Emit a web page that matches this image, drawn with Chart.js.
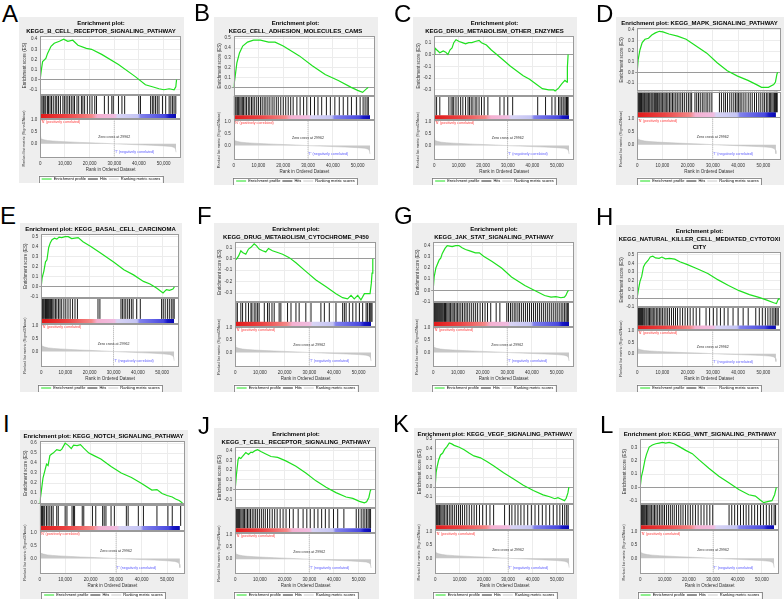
<!DOCTYPE html>
<html>
<head>
<meta charset="utf-8">
<script src="https://cdn.jsdelivr.net/npm/chart.js@4.4.1/dist/chart.umd.min.js"></script>
<style>
  body { margin: 0; background: #fff; width: 784px; height: 599px; position: relative; overflow: hidden; }
  .panel { position: absolute; background: #eeeeee; }
  .letter { position: absolute; font-family: "Liberation Sans", Arial, sans-serif; font-size: 24px; line-height: 1; color: #000; z-index: 2; }
</style>
</head>
<body>
<script>
// shared axis labels
const xTickLabels = ['0', '10,000', '20,000', '30,000', '40,000', '50,000'];
const rankTickValues = [0, 0.5, 1.0];
const legendNames = ['Enrichment profile', 'Hits', 'Ranking metric scores'];
const zeroCross = 29.962;   // rank, thousands
const listSize = 55.0;      // rank, thousands

// ranked list metric (same list behind every panel), rank in thousands
const metricRank = [0, 0.2, 0.6, 1.5, 3, 5, 8, 12, 16, 20, 25, 29.962, 35, 40, 45, 50, 53, 54.3, 54.8, 55.0];
const metricScore = [0.30, 0.24, 0.20, 0.17, 0.14, 0.12, 0.10, 0.08, 0.06, 0.045, 0.025, 0, -0.02, -0.04, -0.06, -0.085, -0.11, -0.15, -0.22, -0.35];

// A  B cell receptor
const esRankA = [0, 0.5, 1.0, 2.3, 3.0, 4.4, 5.7, 7.8, 9.5, 11.2, 13.2, 15.3, 18.7, 20.8, 24.9, 31.7, 38.5, 42.6, 45.4, 48.1, 50.1, 52.2, 54.2, 54.9, 55.2];
const esScoreA = [0, 0.10, 0.18, 0.21, 0.26, 0.33, 0.36, 0.38, 0.40, 0.38, 0.39, 0.34, 0.31, 0.30, 0.25, 0.15, 0.03, -0.05, -0.07, -0.09, -0.10, -0.09, -0.10, -0.07, 0.0];
const hitsA = [0.3, 0.8, 1.4, 1.9, 2.3, 3.0, 3.4, 4.0, 4.6, 5.3, 6.1, 6.7, 7.4, 8.2, 9.2, 9.8, 10.5, 11.2, 11.9, 12.6, 13.3, 13.9, 14.9, 15.6, 16.7, 17.3, 18.0, 19.1, 20.1, 21.0, 22.1, 22.8, 26.0, 27.6, 29.0, 29.6, 31.7, 33.1, 34.2, 39.9, 40.6, 44.7, 45.4, 46.0, 46.7, 47.4, 48.1, 49.5, 50.8, 52.2, 52.9, 53.6, 54.2, 54.9];

// B  cell adhesion molecules
const esRankB = [0, 0.65, 1.3, 2.35, 3.65, 5.6, 8.0, 10.8, 14.1, 16.7, 20.0, 22.6, 26.5, 31.7, 36.9, 42.2, 47.4, 50.0, 52.0, 53.3, 54.3];
const esScoreB = [0, 0.12, 0.25, 0.35, 0.42, 0.46, 0.48, 0.48, 0.46, 0.46, 0.42, 0.38, 0.32, 0.22, 0.13, 0.07, 0.0, -0.03, -0.05, -0.02, 0.0];
const hitsB = [0.2, 0.6, 1.0, 1.5, 2.0, 2.5, 3.0, 3.5, 4.0, 4.6, 5.2, 5.9, 6.5, 7.2, 7.8, 8.5, 9.3, 10.0, 10.8, 11.5, 12.3, 13.0, 13.8, 14.6, 15.5, 16.3, 17.2, 18.0, 19.0, 20.0, 21.0, 22.0, 23.0, 24.0, 25.5, 26.8, 28.2, 29.5, 31.0, 32.6, 34.0, 35.5, 37.4, 39.0, 40.8, 42.6, 44.2, 46.0, 47.5, 49.5, 51.0, 52.2, 53.0, 53.8, 54.3];

// C  drug metabolism other enzymes
const esRankC = [0, 0.3, 1.0, 2.3, 3.7, 4.7, 5.6, 6.5, 7.3, 8.0, 8.9, 10.2, 11.5, 12.8, 14.1, 15.4, 16.7, 18.3, 19.3, 21.3, 23.2, 27.2, 31.1, 36.3, 38.9, 41.5, 44.1, 46.7, 48.7, 49.3, 50.7, 52.0, 53.3, 54.2, 54.3, 54.6];
const esScoreC = [0, 0.055, 0.04, 0.015, 0.03, 0.02, 0.0, 0.04, 0.055, 0.10, 0.125, 0.11, 0.10, 0.09, 0.10, 0.10, 0.11, 0.12, 0.10, 0.08, 0.04, -0.03, -0.10, -0.18, -0.21, -0.25, -0.29, -0.30, -0.30, -0.31, -0.285, -0.25, -0.22, -0.235, -0.11, 0.0];
const hitsC = [0.3, 1.0, 2.3, 6.0, 6.9, 7.6, 8.0, 8.9, 9.8, 10.8, 11.7, 12.8, 13.8, 14.4, 15.1, 15.8, 16.7, 17.4, 18.3, 19.3, 20.4, 21.9, 26.8, 28.5, 30.0, 32.0, 42.2, 45.4, 48.0, 49.3, 50.7, 51.3, 52.0, 52.6, 53.3, 53.8, 54.0, 54.3, 54.6];

// D  MAPK signaling
const esRankD = [0, 0.4, 1.1, 2.0, 3.1, 4.5, 5.8, 7.2, 8.8, 10.2, 12.6, 16.0, 19.4, 23.5, 27.6, 31.7, 35.7, 39.8, 43.9, 47.3, 49.3, 52.0, 54.1, 54.8, 55.4, 55.7];
const esScoreD = [0, 0.12, 0.21, 0.28, 0.31, 0.32, 0.35, 0.37, 0.385, 0.38, 0.36, 0.34, 0.31, 0.245, 0.18, 0.09, 0.015, -0.035, -0.075, -0.115, -0.14, -0.14, -0.115, -0.09, -0.015, 0.0];
const hitsD = [0.1, 0.4, 0.7, 1.0, 1.3, 1.7, 2.0, 2.4, 2.8, 3.1, 3.5, 3.9, 4.3, 4.6, 5.0, 5.5, 5.9, 6.3, 6.8, 7.2, 7.6, 8.1, 8.6, 9.0, 9.5, 10.0, 10.6, 11.1, 11.7, 12.2, 12.8, 13.4, 14.0, 14.6, 15.3, 15.9, 16.6, 17.3, 18.0, 18.7, 19.5, 20.3, 21.0, 21.6, 22.9, 23.6, 24.3, 25.0, 25.8, 26.5, 27.3, 28.0, 28.8, 29.6, 32.6, 33.4, 34.3, 35.0, 35.8, 36.7, 37.5, 38.3, 39.0, 39.6, 40.2, 40.8, 41.5, 42.3, 43.1, 44.0, 44.8, 45.6, 46.5, 47.3, 48.2, 49.0, 49.8, 50.5, 51.2, 51.8, 52.4, 52.9, 53.4, 53.9, 54.4, 54.8, 55.2, 55.5];

// E  basal cell carcinoma
const esRankE = [0, 0.4, 1.1, 1.8, 2.4, 3.1, 3.8, 4.5, 5.5, 6.5, 7.4, 8.5, 9.9, 11.2, 12.6, 13.9, 15.3, 17.3, 20.7, 24.7, 30.1, 34.2, 38.2, 42.3, 45.0, 47.7, 50.4, 51.8, 53.1, 54.5, 55.1];
const esScoreE = [0, 0.09, 0.155, 0.25, 0.27, 0.39, 0.44, 0.47, 0.485, 0.475, 0.495, 0.49, 0.50, 0.50, 0.48, 0.485, 0.49, 0.45, 0.40, 0.335, 0.245, 0.17, 0.12, 0.055, 0.03, -0.01, -0.06, -0.027, -0.033, -0.02, 0.0];
const hitsE = [0.2, 0.5, 0.9, 1.3, 1.8, 2.2, 2.6, 3.0, 3.4, 3.9, 4.3, 4.8, 5.3, 5.9, 6.5, 7.2, 7.8, 8.5, 9.4, 10.2, 11.1, 12.0, 13.0, 14.0, 15.0, 23.5, 24.3, 33.0, 33.6, 34.3, 35.0, 35.8, 36.5, 37.3, 38.0, 39.5, 41.0, 49.8, 50.5, 51.3, 52.2, 53.0, 53.8, 54.5, 55.0];

// F  drug metabolism cytochrome P450
const esRankF = [0, 0.5, 1.4, 2.3, 3.0, 4.3, 5.4, 6.4, 7.7, 8.6, 9.7, 11.1, 12.4, 13.5, 15.1, 17.2, 19.2, 21.9, 24.6, 28.6, 32.7, 36.8, 40.8, 43.5, 45.5, 46.9, 48.2, 49.6, 50.9, 52.3, 53.6, 54.6, 55.1, 55.4, 55.7];
const esScoreF = [0, -0.005, 0.025, 0.07, 0.055, 0.04, 0.085, 0.10, 0.13, 0.115, 0.085, 0.07, 0.06, 0.09, 0.07, 0.055, 0.04, 0.01, -0.035, -0.11, -0.185, -0.245, -0.305, -0.34, -0.35, -0.32, -0.35, -0.32, -0.36, -0.305, -0.305, -0.305, -0.215, -0.125, 0.0];
const hitsF = [0.3, 0.9, 2.3, 3.0, 4.3, 5.4, 6.4, 6.8, 7.7, 8.4, 9.1, 9.7, 11.8, 13.1, 13.8, 14.9, 15.8, 17.8, 18.5, 21.2, 22.6, 24.6, 25.9, 28.6, 30.7, 34.7, 36.1, 38.1, 40.8, 43.5, 44.2, 44.9, 46.2, 47.6, 48.9, 50.3, 51.6, 53.0, 53.6, 54.3, 54.6, 55.0, 55.4];

// G  JAK-STAT signaling
const esRankG = [0, 0.4, 1.1, 2.4, 3.1, 3.7, 4.8, 5.7, 6.7, 7.7, 9.1, 10.4, 11.7, 13.1, 15.1, 17.1, 18.7, 20.4, 23.7, 27.7, 31.7, 37.1, 41.1, 45.1, 47.7, 49.7, 51.7, 53.1, 53.7, 54.4, 54.8];
const esScoreG = [0, 0.12, 0.2, 0.27, 0.29, 0.33, 0.375, 0.40, 0.395, 0.39, 0.40, 0.40, 0.38, 0.365, 0.35, 0.335, 0.335, 0.305, 0.26, 0.20, 0.12, 0.045, 0.0, -0.045, -0.06, -0.055, -0.065, -0.06, -0.045, -0.01, 0.0];
const hitsG = [0.2, 0.5, 0.9, 1.3, 1.7, 2.1, 2.5, 2.9, 3.3, 3.7, 4.1, 4.6, 5.0, 5.5, 6.0, 6.5, 7.0, 7.6, 8.1, 8.7, 9.3, 9.9, 10.5, 11.2, 11.9, 12.6, 13.3, 14.0, 14.8, 15.6, 16.4, 17.2, 18.0, 19.0, 20.0, 21.0, 22.0, 23.3, 25.5, 27.0, 29.8, 30.5, 31.3, 32.0, 32.8, 33.5, 34.3, 35.0, 35.8, 36.6, 37.4, 38.2, 39.0, 39.8, 40.6, 41.4, 42.2, 43.0, 43.8, 44.6, 45.4, 46.2, 47.0, 47.8, 48.6, 49.4, 50.2, 51.0, 51.8, 52.5, 53.2, 53.8, 54.3, 54.7];

// H  natural killer cell mediated cytotoxicity
const esRankH = [0, 0.4, 1.1, 1.8, 2.5, 3.2, 4.3, 5.2, 6.2, 7.3, 8.7, 9.8, 11.2, 12.8, 14.9, 16.9, 19.7, 23.8, 28.0, 32.1, 36.2, 40.4, 44.5, 48.6, 51.4, 54.1, 55.2, 55.9, 56.2];
const esScoreH = [0, 0.08, 0.19, 0.25, 0.36, 0.40, 0.435, 0.475, 0.485, 0.465, 0.46, 0.475, 0.455, 0.46, 0.45, 0.42, 0.39, 0.34, 0.285, 0.21, 0.145, 0.085, 0.04, 0.005, -0.025, -0.055, -0.065, -0.015, 0.0];
const hitsH = [0.2, 0.5, 0.9, 1.3, 1.7, 2.1, 2.6, 3.0, 3.5, 3.9, 4.4, 4.9, 5.4, 5.9, 6.4, 7.0, 7.6, 8.2, 8.8, 9.4, 10.0, 10.7, 11.4, 12.1, 12.8, 13.6, 14.4, 15.2, 16.0, 17.0, 18.0, 19.0, 20.0, 21.0, 22.2, 23.4, 24.8, 27.3, 28.7, 30.2, 31.6, 33.0, 34.5, 36.0, 38.0, 40.0, 42.0, 44.0, 47.0, 48.4, 49.6, 50.8, 51.8, 52.7, 53.5, 54.2, 54.8, 55.4, 55.9];

// I  Notch signaling
const esRankI = [0, 0.4, 0.9, 1.3, 2.0, 2.7, 3.3, 4.0, 4.7, 5.3, 6.7, 8.0, 8.7, 10.0, 11.3, 12.4, 13.3, 14.7, 16.0, 17.3, 19.3, 21.3, 24.0, 28.0, 32.0, 36.0, 40.0, 44.0, 46.0, 48.0, 50.0, 52.0, 53.3, 54.7, 56.0];
const esScoreI = [0, 0.07, 0.17, 0.25, 0.32, 0.39, 0.375, 0.475, 0.49, 0.50, 0.535, 0.525, 0.54, 0.60, 0.575, 0.545, 0.58, 0.575, 0.585, 0.55, 0.50, 0.475, 0.44, 0.365, 0.30, 0.255, 0.195, 0.13, 0.135, 0.095, 0.075, 0.06, 0.04, 0.025, 0.0];
const hitsI = [0.3, 0.7, 1.1, 1.6, 2.0, 2.7, 3.3, 4.0, 4.7, 5.3, 6.7, 7.3, 10.0, 10.7, 12.7, 13.3, 13.7, 16.7, 17.3, 20.7, 22.0, 24.7, 25.3, 26.0, 28.0, 29.3, 34.0, 34.7, 38.7, 40.7, 46.0, 50.3, 52.0, 55.3];

// J  T cell receptor signaling
const esRankJ = [0, 0.5, 1.2, 1.6, 2.3, 3.0, 3.6, 4.3, 5.4, 6.4, 7.0, 8.1, 9.1, 10.4, 12.4, 14.5, 17.2, 20.5, 24.6, 28.6, 32.7, 36.8, 40.8, 44.9, 47.6, 50.3, 52.3, 53.2, 54.1, 54.7, 55.0];
const esScoreJ = [0, 0.15, 0.31, 0.33, 0.32, 0.34, 0.36, 0.38, 0.36, 0.385, 0.38, 0.40, 0.41, 0.39, 0.365, 0.34, 0.33, 0.295, 0.24, 0.17, 0.09, 0.025, -0.03, -0.075, -0.09, -0.12, -0.135, -0.125, -0.08, -0.01, 0.0];
const hitsJ = [0.2, 0.6, 1.0, 1.4, 1.8, 2.3, 2.8, 3.3, 3.8, 4.4, 5.0, 5.6, 6.2, 6.9, 7.6, 8.3, 9.0, 9.8, 10.6, 11.4, 12.2, 13.1, 14.0, 15.0, 16.0, 17.0, 18.2, 19.4, 20.6, 22.0, 23.5, 25.5, 27.5, 29.0, 30.4, 32.0, 33.5, 35.0, 36.5, 38.0, 39.8, 41.5, 44.0, 49.0, 50.0, 51.0, 51.8, 52.5, 53.2, 53.8, 54.3, 54.8];

// K  VEGF signaling
const esRankK = [0, 0.4, 0.8, 1.4, 2.2, 3.1, 3.8, 4.9, 5.8, 6.8, 7.8, 9.9, 11.9, 13.9, 15.9, 18.6, 21.4, 24.1, 28.1, 32.2, 36.2, 40.3, 44.3, 47.0, 49.1, 50.4, 51.8, 53.1, 53.8, 54.5, 54.9];
const esScoreK = [0, 0.155, 0.21, 0.28, 0.335, 0.355, 0.39, 0.425, 0.46, 0.45, 0.435, 0.415, 0.39, 0.355, 0.325, 0.305, 0.265, 0.22, 0.15, 0.085, 0.02, -0.035, -0.08, -0.10, -0.12, -0.11, -0.125, -0.14, -0.115, -0.06, 0.0];
const hitsK = [0.2, 0.5, 0.9, 1.3, 1.8, 2.3, 2.8, 3.3, 3.9, 4.5, 5.1, 5.8, 6.5, 7.2, 8.0, 8.8, 9.6, 10.4, 11.2, 12.1, 13.0, 14.0, 15.0, 16.0, 17.0, 18.2, 19.5, 21.0, 22.5, 24.0, 28.5, 30.5, 31.5, 32.8, 34.0, 35.2, 36.5, 38.0, 39.5, 41.0, 42.5, 44.0, 45.5, 47.0, 48.5, 50.0, 51.2, 52.3, 53.2, 54.0, 54.6];

// L  WNT signaling
const esRankL = [0, 0.5, 1.2, 2.0, 2.6, 3.7, 5.0, 6.4, 7.8, 9.1, 10.5, 11.9, 13.9, 15.9, 18.7, 21.4, 24.1, 28.2, 32.3, 36.4, 40.5, 44.6, 47.3, 49.3, 50.7, 52.7, 54.1, 55.2, 55.9];
const esScoreL = [0, 0.08, 0.135, 0.21, 0.25, 0.305, 0.32, 0.33, 0.335, 0.34, 0.335, 0.34, 0.33, 0.31, 0.28, 0.255, 0.21, 0.145, 0.085, 0.035, -0.015, -0.055, -0.065, -0.095, -0.115, -0.105, -0.10, -0.055, 0.0];
const hitsL = [0.2, 0.5, 0.9, 1.3, 1.7, 2.1, 2.6, 3.1, 3.6, 4.1, 4.7, 5.3, 5.9, 6.5, 7.2, 7.9, 8.6, 9.3, 10.0, 10.8, 11.6, 12.4, 13.2, 14.0, 14.9, 15.8, 16.7, 17.6, 18.6, 19.6, 20.6, 21.6, 22.7, 23.8, 25.0, 26.2, 27.4, 28.6, 29.8, 36.5, 37.6, 38.8, 40.0, 41.2, 42.4, 43.5, 44.6, 45.8, 47.0, 48.2, 49.4, 50.6, 51.8, 53.0, 54.0, 55.0, 55.6];

// colours of the phenotype band (left = positive, right = negative)
const bandStops = [[0, '#e01818'], [0.2, '#ec4444'], [0.38, '#f48888'], [0.42, '#f4b0d0'], [0.55, '#f0bce0'], [0.57, '#d8d4f4'], [0.72, '#c4c4f4'], [0.74, '#8282ec'], [0.92, '#4848e0'], [0.95, '#1818c8'], [1, '#0808b0']];
const bandTop = 0.2;
const rankMin = -0.6;
const rankMax = 1.05;

const panels = [
  { letter: 'A', title: ['Enrichment plot:', 'KEGG_B_CELL_RECEPTOR_SIGNALING_PATHWAY'], rank: esRankA, es: esScoreA, hits: hitsA, esMin: -0.15, esMax: 0.43, box: [19, 17, 165, 166], lp: [2, 2] },
  { letter: 'B', title: ['Enrichment plot:', 'KEGG_CELL_ADHESION_MOLECULES_CAMS'], rank: esRankB, es: esScoreB, hits: hitsB, esMin: -0.085, esMax: 0.52, box: [214, 17, 164, 168], lp: [194, 1] },
  { letter: 'C', title: ['Enrichment plot:', 'KEGG_DRUG_METABOLISM_OTHER_ENZYMES'], rank: esRankC, es: esScoreC, hits: hitsC, esMin: -0.35, esMax: 0.155, box: [413, 17, 164, 168], lp: [394, 2] },
  { letter: 'D', title: ['Enrichment plot: KEGG_MAPK_SIGNALING_PATHWAY'], rank: esRankD, es: esScoreD, hits: hitsD, esMin: -0.18, esMax: 0.415, box: [616, 17, 168, 168], lp: [596, 2] },
  { letter: 'E', title: ['Enrichment plot: KEGG_BASAL_CELL_CARCINOMA'], rank: esRankE, es: esScoreE, hits: hitsE, esMin: -0.11, esMax: 0.525, box: [20, 223, 162, 169], lp: [0, 204] },
  { letter: 'F', title: ['Enrichment plot:', 'KEGG_DRUG_METABOLISM_CYTOCHROME_P450'], rank: esRankF, es: esScoreF, hits: hitsF, esMin: -0.38, esMax: 0.145, box: [214, 223, 165, 169], lp: [197, 204] },
  { letter: 'G', title: ['Enrichment plot:', 'KEGG_JAK_STAT_SIGNALING_PATHWAY'], rank: esRankG, es: esScoreG, hits: hitsG, esMin: -0.105, esMax: 0.43, box: [412, 223, 165, 169], lp: [394, 204] },
  { letter: 'H', title: ['Enrichment plot:', 'KEGG_NATURAL_KILLER_CELL_MEDIATED_CYTOTOXI', 'CITY'], rank: esRankH, es: esScoreH, hits: hitsH, esMin: -0.11, esMax: 0.53, box: [616, 225, 168, 167], lp: [596, 205] },
  { letter: 'I', title: ['Enrichment plot: KEGG_NOTCH_SIGNALING_PATHWAY'], rank: esRankI, es: esScoreI, hits: hitsI, esMin: -0.02, esMax: 0.62, box: [20, 430, 168, 169], lp: [3, 412] },
  { letter: 'J', title: ['Enrichment plot:', 'KEGG_T_CELL_RECEPTOR_SIGNALING_PATHWAY'], rank: esRankJ, es: esScoreJ, hits: hitsJ, esMin: -0.19, esMax: 0.435, box: [214, 428, 165, 171], lp: [198, 414] },
  { letter: 'K', title: ['Enrichment plot: KEGG_VEGF_SIGNALING_PATHWAY'], rank: esRankK, es: esScoreK, hits: hitsK, esMin: -0.175, esMax: 0.5, box: [414, 428, 163, 171], lp: [393, 412] },
  { letter: 'L', title: ['Enrichment plot: KEGG_WNT_SIGNALING_PATHWAY'], rank: esRankL, es: esScoreL, hits: hitsL, esMin: -0.125, esMax: 0.365, box: [619, 428, 163, 171], lp: [600, 413] }
];

const FONT = '"Liberation Sans", Arial, sans-serif';
Chart.defaults.font.family = FONT;
Chart.defaults.color = '#333';

const legendColors = ['#1fe01f', '#222222', '#c8c8c8'];

// white plot area, region frames, rank-panel notes, legend frame
const gseaPlugin = {
  id: 'gsea',
  beforeDraw(chart) {
    const { ctx, chartArea: a } = chart;
    ctx.save();
    ctx.fillStyle = '#fff';
    ctx.fillRect(a.left, a.top, a.width, a.height);
    ctx.restore();
  },
  afterDatasetsDraw(chart) {
    const { ctx, chartArea: a, scales } = chart;
    const xs = scales.x, yr = scales.yRank;
    ctx.save();
    ctx.strokeStyle = '#9a9a9a';
    ctx.lineWidth = 1;
    ['yES', 'yHits', 'yRank'].forEach(id => {
      const s = scales[id];
      ctx.strokeRect(Math.round(a.left) + 0.5, Math.round(s.top) + 0.5, Math.round(a.width) - 1, Math.round(s.height) - 1);
    });
    ctx.font = '3.6px ' + FONT;
    ctx.textBaseline = 'middle';
    ctx.textAlign = 'left';
    ctx.fillStyle = '#ff3b3b';
    ctx.fillText("'N' (positively correlated)", xs.getPixelForValue(0) + 1, yr.getPixelForValue(0.93));
    ctx.fillStyle = '#5a5aff';
    ctx.fillText("'T' (negatively correlated)", xs.getPixelForValue(zeroCross), yr.getPixelForValue(-0.36));
    ctx.fillStyle = '#333';
    ctx.textAlign = 'center';
    ctx.fillText('Zero cross at ' + Math.round(zeroCross * 1000), xs.getPixelForValue(zeroCross), yr.getPixelForValue(0.3));
    ctx.restore();
  },
  afterDraw(chart) {
    const boxes = chart.legend && chart.legend.legendHitBoxes;
    if (!boxes || !boxes.length) return;
    const l = Math.min(...boxes.map(b => b.left)) - 3;
    const r = Math.max(...boxes.map(b => b.left + b.width)) + 2;
    const t = Math.min(...boxes.map(b => b.top)) - 1.5;
    const btm = Math.max(...boxes.map(b => b.top + b.height)) + 1.5;
    const ctx = chart.ctx;
    ctx.save();
    ctx.fillStyle = '#fff';
    ctx.globalCompositeOperation = 'destination-over';
    ctx.fillRect(l, t, r - l, btm - t);
    ctx.globalCompositeOperation = 'source-over';
    ctx.strokeStyle = '#777';
    ctx.lineWidth = 0.8;
    ctx.strokeRect(Math.round(l) + 0.5, Math.round(t) + 0.5, Math.round(r - l), Math.round(btm - t));
    ctx.restore();
  }
};

function bandFill(context) {
  const chart = context.chart;
  if (!chart.chartArea) return null;
  const xs = chart.scales.x;
  const g = chart.ctx.createLinearGradient(xs.getPixelForValue(0), 0, xs.getPixelForValue(listSize), 0);
  bandStops.forEach(([o, c]) => g.addColorStop(o, c));
  return g;
}

function buildPanel(p) {
  const [bx, by, bw, bh] = p.box;
  const letter = document.createElement('div');
  letter.className = 'letter';
  letter.textContent = p.letter;
  letter.style.left = p.lp[0] + 'px';
  letter.style.top = p.lp[1] + 'px';
  document.body.appendChild(letter);

  const wrap = document.createElement('div');
  wrap.className = 'panel';
  Object.assign(wrap.style, { left: bx + 'px', top: by + 'px', width: bw + 'px', height: bh + 'px' });
  const canvas = document.createElement('canvas');
  canvas.width = bw;
  canvas.height = bh;
  canvas.style.width = bw + 'px';
  canvas.style.height = bh + 'px';
  canvas.style.display = 'block';
  wrap.appendChild(canvas);
  document.body.appendChild(wrap);

  // each hit is a short vertical segment, broken apart by a null point
  const hitSegments = p.hits.flatMap(h => [{ x: h, y: bandTop }, { x: h, y: 1 }, { x: h, y: null }]);

  new Chart(canvas.getContext('2d'), {
    type: 'line',
    data: {
      datasets: [
        {
          label: legendNames[0],
          data: p.rank.map((r, i) => ({ x: r, y: p.es[i] })),
          yAxisID: 'yES',
          borderColor: legendColors[0],
          borderWidth: 1.2,
          pointRadius: 0,
          tension: 0,
          order: 0
        },
        {
          label: legendNames[1],
          data: hitSegments,
          yAxisID: 'yHits',
          borderColor: '#000',
          borderWidth: 0.9,
          pointRadius: 0,
          spanGaps: false,
          order: 2
        },
        {
          label: 'band',
          data: [{ x: 0, y: bandTop }, { x: listSize, y: bandTop }],
          yAxisID: 'yHits',
          borderWidth: 0,
          pointRadius: 0,
          fill: 'start',
          backgroundColor: bandFill,
          order: 3
        },
        {
          label: legendNames[2],
          data: metricRank.map((r, i) => ({ x: r, y: metricScore[i] })),
          yAxisID: 'yRank',
          borderColor: '#bdbdbd',
          backgroundColor: '#c8c8c8',
          borderWidth: 0.5,
          pointRadius: 0,
          fill: { value: 0 },
          order: 4
        },
        {
          label: 'zero cross',
          data: [{ x: zeroCross, y: rankMin }, { x: zeroCross, y: rankMax }],
          yAxisID: 'yRank',
          borderColor: '#aaaaaa',
          borderWidth: 0.8,
          borderDash: [1, 1],
          pointRadius: 0,
          order: 1
        }
      ]
    },
    options: {
      responsive: false,
      animation: false,
      devicePixelRatio: 1,
      // the horizontal legend reserves 10px of empty space under its items; pull it off the canvas
      layout: { padding: { top: 1, left: 2, right: 3, bottom: -8 } },
      plugins: {
        title: {
          display: true,
          text: p.title,
          color: '#000',
          font: { size: 6, weight: 'bold', lineHeight: 1.35 },
          padding: { top: 1, bottom: 1 }
        },
        legend: {
          position: 'bottom',
          labels: {
            font: { size: 4 },
            color: '#222',
            usePointStyle: true,
            pointStyleWidth: 10,
            padding: 2,
            generateLabels: () => legendNames.map((name, i) => ({
              text: name,
              fillStyle: legendColors[i],
              strokeStyle: legendColors[i],
              lineWidth: 1,
              pointStyle: 'line',
              hidden: false,
              datasetIndex: i
            }))
          }
        },
        tooltip: { enabled: false }
      },
      scales: {
        x: {
          type: 'linear',
          min: 0,
          max: 57,
          offset: false,
          ticks: {
            stepSize: 10,
            includeBounds: false,
            maxRotation: 0,
            padding: 0.5,
            font: { size: 4.5 },
            callback: v => xTickLabels[Math.round(v / 10)] ?? ''
          },
          grid: { color: '#ececec', tickLength: 2, offset: false },
          border: { display: false },
          title: { display: true, text: 'Rank in Ordered Dataset', font: { size: 4.5 }, padding: { top: 0.5, bottom: 2.5 } }
        },
        yES: {
          type: 'linear',
          position: 'left',
          stack: 'gsea',
          stackWeight: 2.45,
          weight: 3,
          min: p.esMin,
          max: p.esMax,
          ticks: {
            stepSize: 0.1,
            includeBounds: false,
            autoSkip: false,
            padding: 1,
            font: { size: 4.5 },
            callback: v => v.toFixed(1)
          },
          grid: {
            tickLength: 2,
            color: c => (c.tick && Math.abs(c.tick.value) < 1e-9 ? '#9a9a9a' : '#ececec')
          },
          border: { display: false },
          title: { display: true, text: 'Enrichment score (ES)', font: { size: 4.5 }, padding: 1 }
        },
        yHits: {
          type: 'linear',
          position: 'left',
          stack: 'gsea',
          stackWeight: 1,
          weight: 2,
          min: 0,
          max: 1,
          ticks: { display: false },
          grid: { display: false, drawTicks: false },
          border: { display: false }
        },
        yRank: {
          type: 'linear',
          position: 'left',
          stack: 'gsea',
          stackWeight: 1.65,
          weight: 1,
          min: rankMin,
          max: rankMax,
          afterBuildTicks: s => { s.ticks = rankTickValues.map(v => ({ value: v })); },
          ticks: { padding: 1, autoSkip: false, font: { size: 4.5 }, callback: v => v.toFixed(1) },
          grid: { display: false, tickLength: 2 },
          border: { display: false },
          title: { display: true, text: 'Ranked list metric (Signal2Noise)', font: { size: 3.8 }, padding: 1 }
        }
      }
    },
    plugins: [gseaPlugin]
  });
}

panels.forEach(buildPanel);
</script>
</body>
</html>
